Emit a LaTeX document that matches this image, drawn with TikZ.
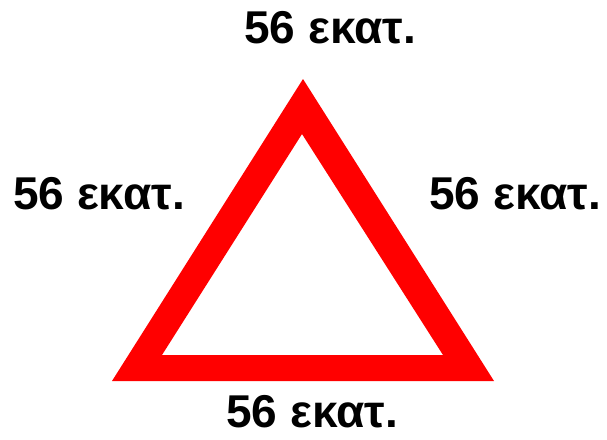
\documentclass[tikz,border=0pt]{standalone}
\usepackage{fontspec}
\setmainfont{Liberation Sans}
\usepackage{tikz}

\begin{document}
\begin{tikzpicture}[x=1pt,y=-1pt,
    label/.style={anchor=base,inner sep=0pt,font=\fontsize{46}{50}\selectfont\bfseries}]
  \useasboundingbox (0,0) rectangle (607,439);
  % outer and inner corners of the red frame
  \coordinate (top) at (303,79);
  \coordinate (bl) at (112,381);
  \coordinate (br) at (494,381);
  \coordinate (itop) at (302,134);
  \coordinate (ibl) at (162,355);
  \coordinate (ibr) at (443,355);
  \fill[red,even odd rule] (top) -- (br) -- (bl) -- cycle
                           (itop) -- (ibr) -- (ibl) -- cycle;
  % one length on each side
  \node[label] (lentop) at (330,43) {56 εκατ.};
  \node[label] (lenleft) at (99,209) {56 εκατ.};
  \node[label] (lenright) at (515,209) {56 εκατ.};
  \node[label] (lenbottom) at (312,427) {56 εκατ.};
\end{tikzpicture}
\end{document}
